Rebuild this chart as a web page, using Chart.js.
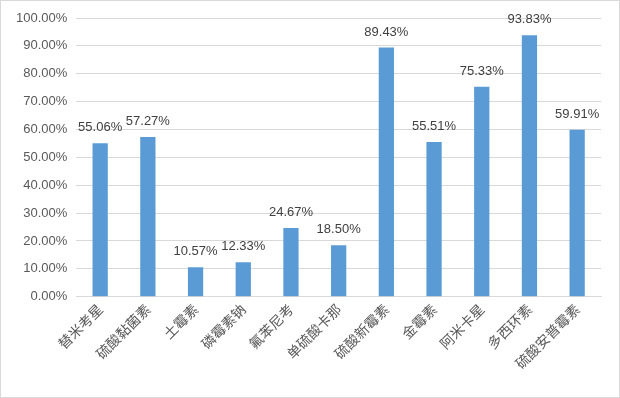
<!DOCTYPE html>
<html>
<head>
<meta charset="utf-8">
<script src="https://cdn.jsdelivr.net/npm/chart.js@4/dist/chart.umd.min.js"></script>
<style>
  body { margin: 0; background: #fff; }
  #wrap { position: relative; width: 618px; height: 396px; border: 1px solid #d9d9d9; }
</style>
</head>
<body>
<div id="wrap"><canvas id="myChart" width="618" height="396"></canvas></div>
<script>
var labels = ['替米考星', '硫酸黏菌素', '土霉素', '磷霉素钠', '氟苯尼考', '单硫酸卡那', '硫酸新霉素', '金霉素', '阿米卡星', '多西环素', '硫酸安普霉素'];
var rates = [55.06, 57.27, 10.57, 12.33, 24.67, 18.50, 89.43, 55.51, 75.33, 93.83, 59.91];

// draw value labels above each bar
var valueLabels = {
    id: 'valueLabels',
    afterDatasetsDraw: function (chart) {
        var ctx = chart.ctx;
        var meta = chart.getDatasetMeta(0);
        ctx.save();
        ctx.font = '13px "Liberation Sans", Arial, sans-serif';
        ctx.fillStyle = '#404040';
        ctx.textAlign = 'center';
        ctx.textBaseline = 'bottom';
        meta.data.forEach(function (bar, i) {
            ctx.fillText(rates[i].toFixed(2) + '%', bar.x, bar.y - 9);
        });
        ctx.restore();
    }
};

var chart = new Chart(document.getElementById('myChart'), {
    type: 'bar',
    data: {
        labels: labels,
        datasets: [{
            label: 'rate',
            data: rates,
            backgroundColor: '#5b9bd5',
            barPercentage: 0.32,
            categoryPercentage: 1.0
        }]
    },
    options: {
        responsive: false,
        animation: false,
        layout: { padding: { top: 17, right: 18, left: 6, bottom: 21 } },
        plugins: {
            legend: { display: false },
            tooltip: { enabled: false }
        },
        scales: {
            y: {
                min: 0,
                max: 100,
                ticks: {
                    stepSize: 10,
                    color: '#595959',
                    font: { size: 13, family: '"Liberation Sans", Arial, sans-serif' },
                    padding: 9,
                    callback: function (v) { return v.toFixed(2) + '%'; }
                },
                grid: { color: '#d9d9d9', drawTicks: false },
                border: { display: false }
            },
            x: {
                ticks: {
                    color: '#595959',
                    font: { size: 14, family: '"Noto Sans CJK SC", sans-serif' },
                    minRotation: 45,
                    maxRotation: 45,
                    autoSkip: false,
                    padding: 4
                },
                grid: { display: false, drawTicks: false },
                border: { color: '#d9d9d9' }
            }
        }
    },
    plugins: [valueLabels]
});
</script>
</body>
</html>
